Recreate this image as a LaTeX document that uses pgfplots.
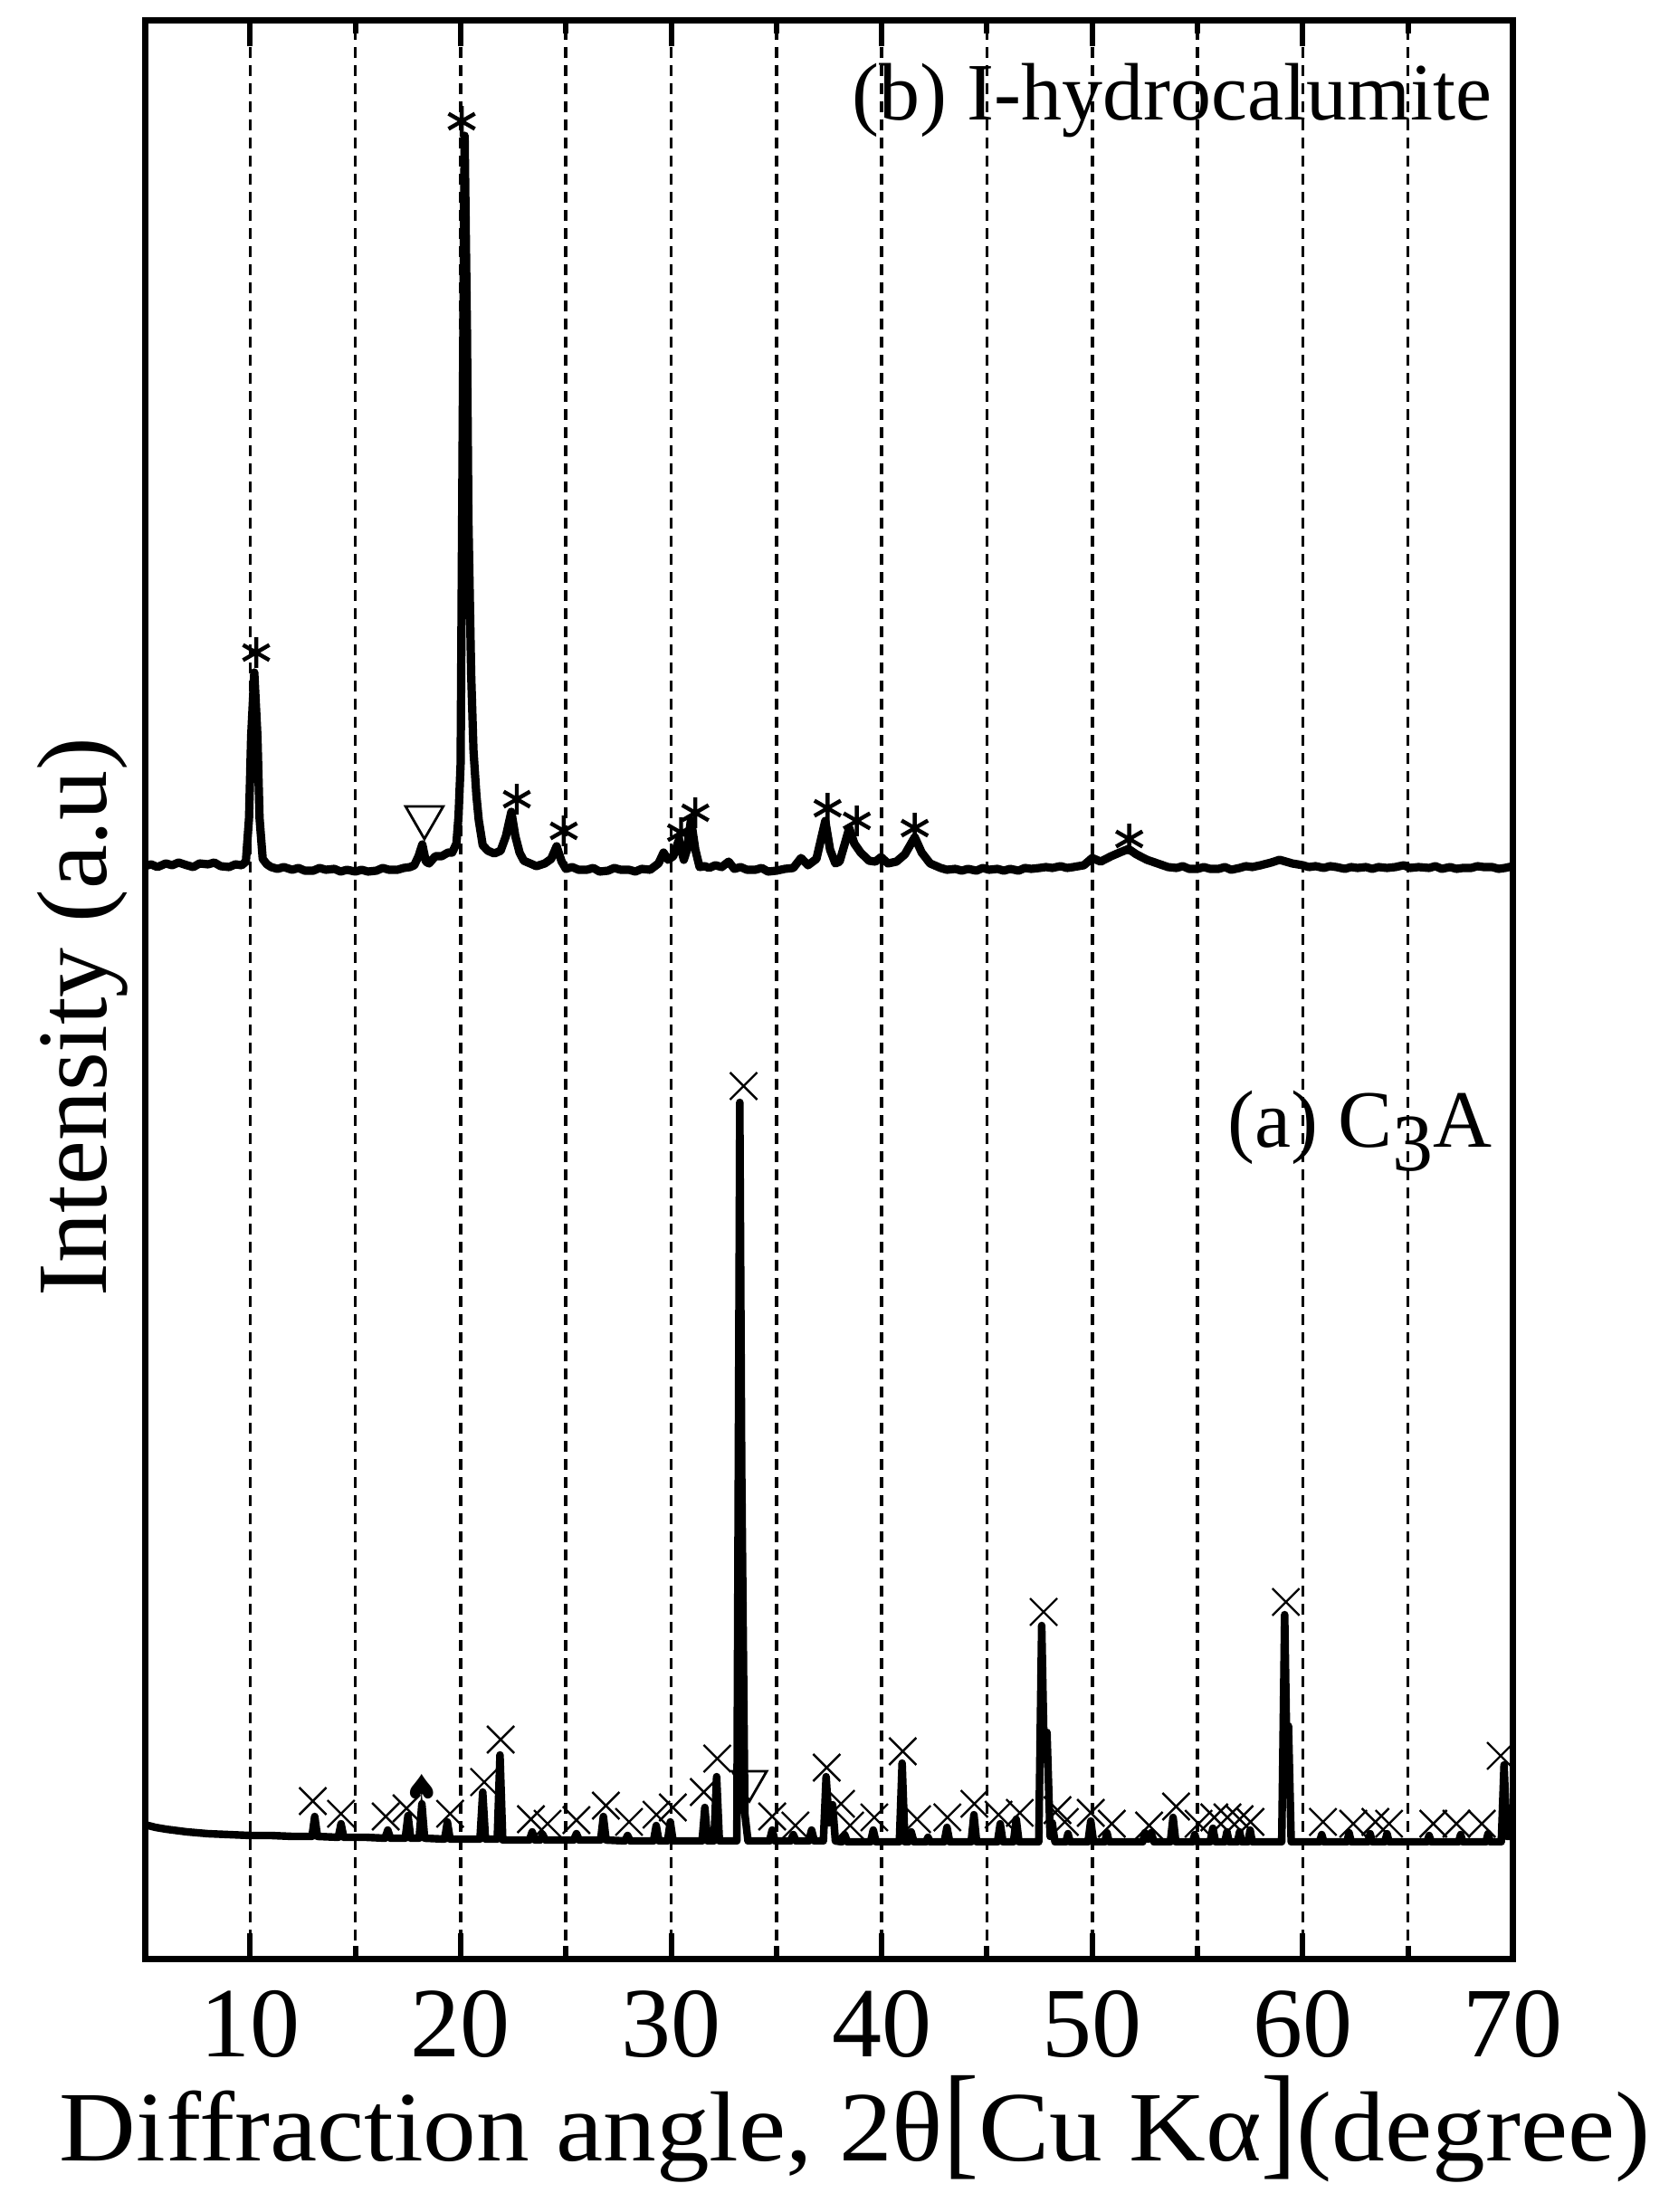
\documentclass[border=0pt]{standalone}
\usepackage{fontspec}
\setmainfont{Liberation Serif}
\newfontfamily\symfont{DejaVu Sans}
\usepackage{graphicx}
\usepackage{pgfplots}
\pgfplotsset{compat=1.18}
\newcommand\brk[1]{\raisebox{-0.01em}{\scalebox{1}[1.26]{#1}}}
\newcommand\bigfont{\fontsize{27.5}{30}\selectfont}
\newcommand\midfont{\fontsize{22.5}{25}\selectfont}
\begin{document}
\begin{tikzpicture}
\begin{axis}[
  name=ax,
  scale only axis, width=378pt, height=535.25pt,
  xmin=5, xmax=70, ymin=0, ymax=2141,
  xtick={10,20,...,70}, minor xtick={15,25,...,65},
  xticklabels={10,20,30,40,50,60,70},
  ytick=\empty,
  xtick pos=both, xticklabel pos=lower,
  tick align=inside,
  major tick length=7pt, minor tick length=3.5pt,
  every tick/.style={black, line width=1.5pt},
  axis line style={line width=1.75pt},
  xmajorgrids, xminorgrids,
  grid style={black, line width=0.9pt, dash pattern=on 3pt off 2pt},
  xticklabel style={font=\bigfont, anchor=base, yshift=-27pt, inner sep=0pt},
  xlabel={\scalebox{1.067}[1]{Diffraction angle, 2θ\brk{[}Cu Kα\brk{]}(degree)}},
  xlabel style={at={(axis description cs:0.519,-0.1046)}, anchor=base, font=\bigfont, inner sep=0pt},
  ylabel={Intensity (a.u)},
  ylabel style={at={(axis description cs:-0.0284,0.486)}, anchor=base, font=\bigfont, inner sep=0pt},
]
% (a) C3A
\addplot[black, line width=2.1pt, line join=round] table {
5.0 148
5.5 145
6.0 143
7.0 140
8.0 138
9.0 137
10.0 136
11.0 136
12.0 135
12.94 135
13.07 157
13.20 135
14.19 134
14.32 149
14.45 134
15.5 134
16.41 133
16.54 142
16.67 133
17.37 133
17.50 158
17.63 133
18.03 133
18.16 171
18.29 133
19.24 132
19.37 151
19.50 132
20.3 132
20.92 132
21.05 184
21.18 132
21.74 132
21.87 225
22.00 131
23.27 131
23.40 140
23.53 131
23.77 131
23.90 137
24.03 131
25.37 131
25.50 138
25.63 131
26.65 131
26.78 157
26.91 131
27.80 130
27.93 136
28.06 130
29.16 130
29.29 147
29.42 130
29.83 130
29.96 151
30.09 130
31.47 130
31.60 167
31.73 130
32.03 130
32.16 201
32.29 130
33.12 130
33.26 946
33.35 540
33.50 160
33.65 130
34.67 130
34.80 142
34.93 130
35.67 130
35.80 137
35.93 130
36.54 130
36.67 142
36.80 130
37.23 130
37.36 201
37.50 150
37.67 170
37.80 130
38.11 129
38.24 137
38.37 129
39.47 129
39.60 142
39.73 129
40.84 129
40.97 216
41.10 129
41.27 129
41.40 140
41.53 129
42.1 129
42.2 134
42.3 129
42.97 129
43.10 145
43.23 129
44.25 129
44.38 159
44.51 129
45.50 129
45.63 149
45.76 129
46.26 129
46.39 154
46.52 129
47.46 129
47.60 368
47.72 220
47.85 250
48.00 135
48.10 150
48.23 129
48.75 129
48.85 138
48.95 129
49.80 129
49.93 152
50.06 129
50.6 129
50.7 139
50.8 129
52.4 129
52.5 139
52.65 132
52.8 139
52.93 129
53.71 129
53.84 156
53.97 129
54.77 129
54.87 137
54.97 129
55.60 129
55.73 144
55.86 129
56.3 129
56.4 140
56.5 129
56.9 129
57.0 140
57.1 129
57.4 129
57.5 142
57.6 129
59.00 129
59.14 380
59.24 230
59.32 257
59.45 129
60.8 129
60.9 137
61.0 129
62.1 129
62.2 139
62.3 129
63.1 129
63.2 138
63.3 129
63.9 129
64.0 138
64.1 129
65.9 129
66.0 136
66.1 129
67.4 129
67.5 137
67.6 129
68.7 129
68.8 138
68.9 129
69.43 129
69.56 214
69.70 135
70.0 135
};
% (b) I-hydrocalumite
\addplot[black, line width=2.3pt, line join=round] table {
5.0 1207
5.3 1209
5.6 1206
6.0 1210
6.3 1208
6.6 1211
7.0 1208
7.3 1206
7.6 1210
8.0 1209
8.3 1211
8.6 1207
9.0 1206
9.3 1209
9.6 1208
9.8 1212
9.95 1260
10.05 1350
10.2 1421
10.35 1350
10.45 1260
10.6 1215
10.8 1209
11.0 1206
11.3 1204
11.6 1206
12.0 1203
12.3 1205
12.6 1202
13.0 1202
13.3 1205
13.6 1203
14.0 1204
14.3 1201
14.6 1203
15.0 1201
15.3 1203
15.6 1201
16.0 1202
16.3 1205
16.6 1203
17.0 1203
17.3 1205
17.6 1206
17.8 1208
18.0 1218
18.18 1231
18.35 1212
18.5 1210
18.8 1218
19.1 1218
19.4 1222
19.6 1222
19.8 1232
19.9 1262
20.0 1320
20.1 1700
20.19 2014
20.3 1800
20.37 1590
20.5 1420
20.61 1335
20.75 1285
20.86 1258
21.05 1230
21.3 1224
21.6 1221
21.9 1224
22.15 1240
22.41 1267
22.6 1240
22.8 1222
23.0 1213
23.3 1210
23.6 1207
24.0 1210
24.3 1215
24.56 1229
24.8 1212
25.0 1204
25.3 1206
25.6 1203
26.0 1203
26.3 1205
26.6 1201
27.0 1202
27.3 1205
27.6 1203
28.0 1203
28.3 1201
28.6 1204
29.0 1203
29.4 1210
29.64 1222
29.85 1214
30.1 1218
30.37 1236
30.6 1214
30.75 1225
30.94 1258
31.15 1225
31.35 1206
31.6 1207
31.8 1205
32.1 1208
32.4 1206
32.73 1212
33.0 1204
33.3 1206
33.6 1203
34.0 1203
34.3 1205
34.6 1201
35.0 1202
35.4 1204
35.8 1205
36.17 1216
36.5 1208
36.9 1215
37.1 1235
37.32 1257
37.55 1225
37.8 1210
38.0 1212
38.25 1232
38.46 1249
38.7 1232
39.0 1222
39.4 1213
39.7 1212
39.97 1217
40.3 1210
40.7 1212
41.1 1220
41.57 1239
41.9 1222
42.3 1210
42.8 1205
43.1 1203
43.5 1204
43.8 1202
44.1 1204
44.5 1202
44.8 1205
45.1 1203
45.5 1204
45.8 1202
46.1 1204
46.5 1202
46.8 1205
47.1 1204
47.5 1205
47.8 1206
48.1 1205
48.5 1207
48.8 1205
49.1 1206
49.6 1208
50.0 1216
50.4 1212
50.9 1218
51.3 1222
51.72 1226
52.1 1220
52.6 1214
53.1 1210
53.6 1206
54.0 1205
54.3 1207
54.6 1204
55.0 1204
55.3 1206
55.6 1204
56.0 1204
56.3 1206
56.6 1203
57.0 1205
57.3 1207
57.6 1206
58.0 1208
58.5 1211
58.9 1214
59.2 1212
59.5 1210
60.0 1208
60.3 1206
60.6 1207
61.0 1205
61.3 1207
61.6 1206
62.0 1204
62.3 1206
62.6 1205
63.0 1206
63.3 1204
63.6 1206
64.0 1205
64.4 1206
64.8 1208
65.1 1205
65.5 1206
66.0 1205
66.3 1207
66.6 1204
67.0 1206
67.3 1204
67.6 1205
68.0 1205
68.3 1207
68.6 1206
69.0 1206
69.3 1204
69.6 1205
70.0 1207
};
% x marks (C3A)
\addplot[only marks, mark=x, mark size=5.3pt, mark options={black, line width=0.6pt}] table {
12.98 174
14.32 160
16.44 157
17.43 166
19.5 160
21.12 195
21.9 242
23.34 154
24.13 149
25.5 153
26.9 169
28.0 151
29.3 159
30.08 167
31.55 184
32.19 221
33.44 964
34.8 157
35.9 147
37.39 211
38.07 171
38.5 147
39.65 156
41.0 229
41.68 154
43.12 156
44.4 171
45.55 159
46.56 161
47.69 383
48.35 164
48.7 151
49.93 161
50.93 149
52.7 147
53.98 168
55.05 149
55.8 156
56.42 156
57.0 154
57.52 151
59.2 394
60.96 151
62.4 149
63.45 151
64.1 149
66.2 149
67.3 149
68.5 149
69.4 224
};
% asterisks (hydrocalumite)
\addplot[only marks, mark=asterisk, mark size=4.2pt, mark options={black, line width=1.1pt}] table {
10.29 1443
20.05 2030
22.67 1281
24.9 1246
30.47 1244
31.15 1266
37.43 1271
38.82 1257
41.57 1249
51.76 1237
};
% open down triangles
\addplot[only marks, mark=triangle, mark size=6pt, mark options={black, rotate=180, line width=0.7pt}] coordinates {(18.28,1261)};
\addplot[only marks, mark=triangle, mark size=5.5pt, mark options={black, rotate=180, line width=0.7pt}] coordinates {(33.72,196)};
% spade
\addplot[only marks, mark=text, text mark={\symfont\fontsize{11}{11}\selectfont ♠}] coordinates {(18.16,188)};
\node[anchor=base east, font=\midfont, inner sep=0pt] at (rel axis cs:0.985,0.9488) {(b) I-hydrocalumite};
\node[anchor=base east, font=\midfont, inner sep=0pt] at (rel axis cs:0.985,0.4185) {(a) C\raisebox{-0.28em}{3}A};
\end{axis}
\pgfresetboundingbox
\path ([xshift=-40pt,yshift=-70pt]ax.south west) rectangle ([xshift=43pt,yshift=5.75pt]ax.north east);
\end{tikzpicture}
\end{document}
